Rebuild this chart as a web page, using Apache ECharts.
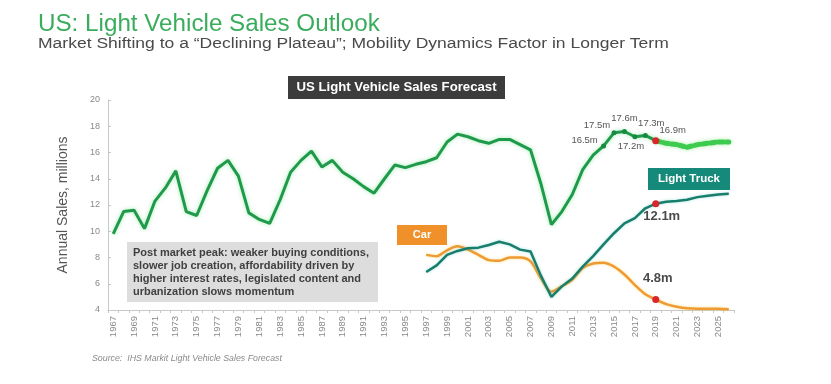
<!DOCTYPE html>
<html>
<head>
<meta charset="utf-8">
<script src="https://cdn.jsdelivr.net/npm/echarts@6/dist/echarts.min.js"></script>
<style>
html,body{margin:0;padding:0;background:#fff;}
#c{width:831px;height:384px;}
</style>
</head>
<body>
<div id="c"></div>
<script>
// ---- data ----
var years = [];
for (var y = 1967; y <= 2026; y++) years.push(String(y));

// Total light vehicle sales, 1967-2019 (millions)
var totalHistory = [9.8, 11.5, 11.6, 10.2, 12.3, 13.3, 14.6, 11.5, 11.2, 13.1,
  14.8, 15.4, 14.2, 11.4, 10.9, 10.6, 12.4, 14.5, 15.4, 16.1,
  14.9, 15.4, 14.5, 14.0, 13.4, 12.9, 14.0, 15.05, 14.85, 15.1,
  15.3, 15.6, 16.8, 17.4, 17.2, 16.9, 16.7, 17.0, 17.0, 16.6,
  16.2, 13.6, 10.5, 11.5, 12.8, 14.7, 15.8, 16.5, 17.5, 17.6,
  17.2, 17.3, 16.9];
// Forecast total, 2019-2026
var totalForecast = [16.9, 16.7, 16.6, 16.4, 16.6, 16.7, 16.8, 16.8];
// Light truck, 1997-2026
var truckValues = [6.9, 7.4, 8.2, 8.5, 8.7, 8.75, 8.95, 9.2, 9.0, 8.6,
  8.45, 6.6, 5.0, 5.8, 6.4, 7.3, 8.1, 9.0, 9.85, 10.6,
  11.0, 11.75, 12.1, 12.25, 12.3, 12.4, 12.6, 12.7, 12.8, 12.85];
// Car, 1997-2026
var carValues = [8.2, 8.1, 8.55, 8.85, 8.6, 8.2, 7.8, 7.75, 8.0, 8.0,
  7.7, 6.4, 5.4, 5.8, 6.3, 7.2, 7.55, 7.6, 7.3, 6.7,
  5.9, 5.2, 4.8, 4.45, 4.25, 4.13, 4.1, 4.1, 4.1, 4.05];
var yTicks = [4, 6, 8, 10, 12, 14, 16, 18, 20];

// labelled points: [year, text, dx, dy]
var totalLabels = [["2014", "16.5m", -19, -6], ["2015", "17.5m", -17, -7], ["2016", "17.6m", 0, -13],
  ["2017", "17.2m", -4, 10], ["2018", "17.3m", 6, -12], ["2019", "16.9m", 17, -10]];
var truckLabel = ["2019", "12.1m", 6, 13];
var carLabel = ["2019", "4.8m", 2, -21];

// ---- build ----
var FONT = '"Liberation Sans", Arial, sans-serif';
function pad(startYear, arr) {
  var out = [];
  for (var i = 0; i < years.length; i++) {
    var idx = (1967 + i) - startYear;
    out.push(idx >= 0 && idx < arr.length ? arr[idx] : null);
  }
  return out;
}
var RED = '#d9262b';
function decorate(data, labels, dotYears, dotColor) {
  return data.map(function (v, i) {
    var yr = years[i];
    if (v === null) return v;
    var item = { value: v };
    var lab = labels.filter(function (l) { return l[0] === yr; })[0];
    var isRed = yr === '2019';
    var isDot = dotYears.indexOf(yr) >= 0;
    if (isRed || isDot) {
      item.symbol = 'circle';
      item.symbolSize = isRed ? 7 : 5;
      item.itemStyle = { color: isRed ? RED : dotColor, borderWidth: 0 };
    }
    if (lab) {
      item.label = { show: true, formatter: lab[1], position: 'inside', offset: [lab[2], lab[3]] };
    }
    return item;
  });
}

var totalHistData = decorate(pad(1967, totalHistory), totalLabels, ['2014', '2015', '2016', '2017', '2018'], '#178a40');
var totalFcData = pad(2019, totalForecast);
var truckData = decorate(pad(1997, truckValues), [truckLabel], [], null);
var carData = decorate(pad(1997, carValues), [carLabel], [], null);

var chart = echarts.init(document.getElementById('c'), null, { renderer: 'canvas' });
chart.setOption({
  backgroundColor: '#ffffff',
  animation: false,
  textStyle: { fontFamily: FONT },
  grid: { left: 108, right: 97, top: 100, bottom: 74, containLabel: false },
  xAxis: {
    type: 'category',
    data: years,
    boundaryGap: true,
    axisLine: { lineStyle: { color: '#c8c8c8', width: 1 } },
    axisTick: { show: true, interval: 0, length: 3, lineStyle: { color: '#c8c8c8' } },
    axisLabel: { interval: 1, rotate: 90, fontSize: 9.5, color: '#8a8a8a', margin: 6, fontFamily: FONT }
  },
  yAxis: {
    type: 'value',
    min: yTicks[0],
    max: yTicks[yTicks.length - 1],
    interval: 2,
    name: 'Annual Sales, millions',
    nameLocation: 'middle',
    nameGap: 38,
    nameTextStyle: { fontSize: 14, color: '#555', fontFamily: FONT },
    splitLine: { show: false },
    axisLine: { show: true, lineStyle: { color: '#c8c8c8' } },
    axisTick: { show: true, inside: true, length: 3, lineStyle: { color: '#c8c8c8' } },
    axisLabel: { fontSize: 9, color: '#8a8a8a', margin: 8, fontFamily: FONT }
  },
  series: [
    {
      type: 'line', name: 'Total forecast', data: totalFcData, z: 2,
      symbol: 'none', connectNulls: false,
      lineStyle: { color: '#3ccb4f', width: 5, type: [5, 3], cap: 'round',
        shadowColor: 'rgba(120,230,120,0.6)', shadowBlur: 4 }
    },
    {
      type: 'line', name: 'Total', data: totalHistData, z: 4,
      symbol: 'none', connectNulls: false,
      lineStyle: { color: '#1f9a4a', width: 3, shadowColor: 'rgba(90,220,120,0.55)', shadowBlur: 4 },
      label: { fontSize: 9.5, color: '#555', fontFamily: FONT }
    },
    {
      type: 'line', name: 'Light Truck', data: truckData, z: 4,
      symbol: 'none', connectNulls: false,
      lineStyle: { color: '#197d6b', width: 2.5, shadowColor: 'rgba(90,200,200,0.5)', shadowBlur: 3 },
      label: { fontSize: 13, fontWeight: 'bold', color: '#4a4a4a', fontFamily: FONT }
    },
    {
      type: 'line', name: 'Car', data: carData, z: 3, smooth: 0.3,
      symbol: 'none', connectNulls: false,
      lineStyle: { color: '#ef9a33', width: 2.5, shadowColor: 'rgba(240,210,80,0.6)', shadowBlur: 3 },
      label: { fontSize: 13, fontWeight: 'bold', color: '#4a4a4a', fontFamily: FONT }
    }
  ],
  graphic: [
    { type: 'text', x: 38, y: 13, scaleX: 1.03, style: { text: 'US: Light Vehicle Sales Outlook', fontSize: 23.5, fontFamily: FONT, fill: '#3aad5c', textVerticalAlign: 'top' } },
    { type: 'text', x: 38, y: 36, scaleX: 1.13, style: { text: 'Market Shifting to a \u201cDeclining Plateau\u201d; Mobility Dynamics Factor in Longer Term', fontSize: 15.5, fontFamily: FONT, fill: '#4a4a4a', textVerticalAlign: 'top' } },
    { type: 'rect', shape: { x: 288, y: 76, width: 217, height: 23 }, style: { fill: '#3c3c3c' } },
    { type: 'text', x: 396.5, y: 87.5, style: { text: 'US Light Vehicle Sales Forecast', fontSize: 13.2, fontWeight: 'bold', fontFamily: FONT, fill: '#ffffff', textAlign: 'center', textVerticalAlign: 'middle' } },
    { type: 'rect', shape: { x: 127, y: 242, width: 251, height: 60 }, style: { fill: '#dddddd' }, z: 10 },
    { type: 'text', x: 133, y: 246, z: 11, style: { text: 'Post market peak: weaker buying conditions,\nslower job creation, affordability driven by\nhigher interest rates, legislated content and\nurbanization slows momentum', fontSize: 11, fontWeight: 'bold', lineHeight: 13, fontFamily: FONT, fill: '#404040', textVerticalAlign: 'top' } },
    { type: 'rect', shape: { x: 397, y: 225, width: 50, height: 20 }, style: { fill: '#f0902a' }, z: 10 },
    { type: 'text', x: 422, y: 235, z: 11, style: { text: 'Car', fontSize: 11, fontWeight: 'bold', fontFamily: FONT, fill: '#ffffff', textAlign: 'center', textVerticalAlign: 'middle' } },
    { type: 'rect', shape: { x: 648, y: 168, width: 82, height: 22 }, style: { fill: '#168a7a' }, z: 10 },
    { type: 'text', x: 689, y: 179, z: 11, style: { text: 'Light Truck', fontSize: 11.5, fontWeight: 'bold', fontFamily: FONT, fill: '#ffffff', textAlign: 'center', textVerticalAlign: 'middle' } },
    { type: 'text', x: 92, y: 359, style: { text: 'Source:  IHS Markit Light Vehicle Sales Forecast', fontSize: 8.8, fontStyle: 'italic', fontFamily: FONT, fill: '#8a8a8a', textVerticalAlign: 'middle' } }
  ]
});
</script>
</body>
</html>
